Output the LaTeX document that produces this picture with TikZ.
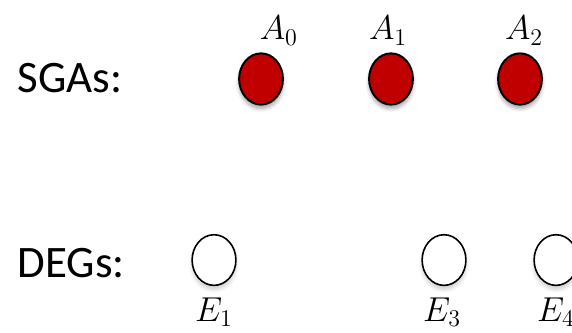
\documentclass[tikz,border=0pt]{standalone}
\usepackage{fontspec}
\setmainfont{Carlito}
\usepackage{tikz}
\usetikzlibrary{shapes.geometric,positioning,shadows.blur}
\usepackage{xcolor}
\definecolor{SGARed}{RGB}{192,0,0}

\begin{document}
\begin{tikzpicture}[
    sga/.style={ellipse,draw=black,fill=SGARed,line width=1pt,minimum width=0.77cm,minimum height=0.90cm,
                blur shadow={shadow xshift=0pt,shadow yshift=-2pt,shadow opacity=35,shadow blur steps=6}},
    deg/.style={ellipse,draw=black,fill=white,line width=0.8pt,minimum width=0.77cm,minimum height=0.89cm,
                blur shadow={shadow xshift=0pt,shadow yshift=-2pt,shadow opacity=20,shadow blur steps=6}},
    rowname/.style={anchor=west,inner sep=0pt,font=\fontsize{22.5}{27}\selectfont},
    genelbl/.style={inner sep=0pt,font=\fontsize{17}{20}\selectfont}]
  \useasboundingbox (0,0) rectangle (10.052,-5.852);
  % row titles
  \node[rowname] (sgas) at (0.30,-1.37) {SGAs:};
  \node[rowname] (degs) at (0.30,-4.62) {DEGs:};
  % SGA nodes
  \node[sga] (a0) at (4.587,-1.388) {};
  \node[sga] (a1) at (6.871,-1.388) {};
  \node[sga] (a2) at (9.138,-1.388) {};
  \node[genelbl] (la0) at (4.90,-0.54) {$A_0$};
  \node[genelbl] (la1) at (6.82,-0.54) {$A_1$};
  \node[genelbl] (la2) at (9.21,-0.54) {$A_2$};
  % DEG nodes
  \node[deg] (e1) at (3.761,-4.57) {};
  \node[deg] (e3) at (7.803,-4.57) {};
  \node[deg] (e4) at (9.771,-4.57) {};
  \node[genelbl] (le1) at (3.76,-5.48) {$E_1$};
  \node[genelbl] (le3) at (7.77,-5.48) {$E_3$};
  \node[genelbl] (le4) at (9.77,-5.48) {$E_4$};
\end{tikzpicture}
\end{document}
